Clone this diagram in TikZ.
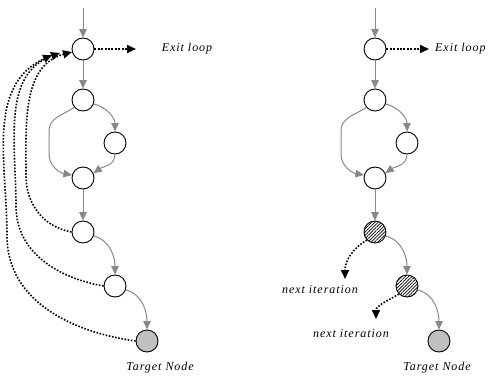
\documentclass[tikz,border=0pt]{standalone}
\usepackage{fontspec}
\setmainfont{Liberation Serif}[LetterSpace=8]
\usetikzlibrary{arrows.meta,patterns.meta}
\definecolor{edgegray}{HTML}{888888}
\definecolor{targetgray}{HTML}{C0C0C0}
\begin{document}
\begin{tikzpicture}[x=1pt,y=1pt,
  nd/.style={circle,draw=black,line width=0.9pt,minimum size=22pt,inner sep=0pt,fill=white},
  hatch/.style={nd,pattern={Lines[angle=45,distance=2.3pt,line width=0.7pt]}},
  tgt/.style={nd,fill=targetgray},
  flow/.style={draw=edgegray,line width=1pt,-{Triangle[length=8.5pt,width=7.5pt]}},
  back/.style={draw=black,line width=1.6pt,dash pattern=on 1.6pt off 1.6pt,-{Triangle[length=9pt,width=8pt]}},
  exitarrow/.style={draw=black,line width=2.2pt,dash pattern=on 2pt off 1.4pt,-{Triangle[length=9pt,width=8pt]}},
  lbl/.style={font=\fontsize{12}{14}\selectfont\itshape,inner sep=0pt}]
\useasboundingbox (0,0) rectangle (490,376);
% ---------------- left diagram ----------------
\coordinate (Ls) at (83,368);
\node[nd] (L1) at (83,327) {};
\node[nd] (L2) at (83,276) {};
\node[nd] (L3) at (115,233) {};
\node[nd] (L4) at (83,198) {};
\node[nd] (L5) at (83,144) {};
\node[nd] (L6) at (115,90) {};
\node[tgt] (LT) at (147,35) {};
\coordinate (Lx) at (136,327);
\node[lbl] (Lxl) at (187,327) {Exit loop};
\node[lbl] (Ltl) at (160,8) {Target Node};
\draw[flow] (Ls) -- (L1);
\draw[flow] (L1) -- (L2);
\draw[flow] (L2.-20) to[out=-15,in=90] (L3.north);
\draw[flow] (L2.220) to[out=215,in=90] (49,245) -- (49,222) to[out=-90,in=170] (L4.165);
\draw[flow] (L3.south) to[out=-90,in=35] (L4.25);
\draw[flow] (L4) -- (L5);
\draw[flow] (L5.-20) to[out=-15,in=90] (L6.north);
\draw[flow] (L6.-20) to[out=-15,in=90] (LT.north);
\draw[exitarrow] (L1.east) -- (Lx);
\coordinate (a1) at (72,324);
\coordinate (a2) at (60,323);
\coordinate (a3) at (52,321);
\draw[back] (L5.west) to[out=170,in=-90] (26,200) to[out=90,in=195] (a1);
\draw[back] (L6.west) to[out=170,in=-90] (16,170) to[out=90,in=200] (a2);
\draw[back] (LT.west) to[out=172,in=-90] (7,140) to[out=90,in=205] (a3);
% ---------------- right diagram ----------------
\coordinate (Rs) at (375,368);
\node[nd] (R1) at (375,327) {};
\node[nd] (R2) at (375,276) {};
\node[nd] (R3) at (407,233) {};
\node[nd] (R4) at (375,198) {};
\node[hatch] (R5) at (375,144) {};
\node[hatch] (R6) at (407,90) {};
\node[tgt] (RT) at (439,35) {};
\coordinate (Rx) at (429,327);
\node[lbl,anchor=west] (Rxl) at (435,327) {Exit loop};
\node[lbl] (Rtl) at (437,8) {Target Node};
\coordinate (n1) at (345,97);
\coordinate (n2) at (376,57);
\node[lbl] (n1l) at (320,86) {next iteration};
\node[lbl] (n2l) at (351,42) {next iteration};
\draw[flow] (Rs) -- (R1);
\draw[flow] (R1) -- (R2);
\draw[flow] (R2.-20) to[out=-15,in=90] (R3.north);
\draw[flow] (R2.220) to[out=215,in=90] (341,245) -- (341,222) to[out=-90,in=170] (R4.165);
\draw[flow] (R3.south) to[out=-90,in=35] (R4.25);
\draw[flow] (R4) -- (R5);
\draw[flow] (R5.-20) to[out=-15,in=90] (R6.north);
\draw[flow] (R6.-20) to[out=-15,in=90] (RT.north);
\draw[exitarrow] (R1.east) -- (Rx);
\draw[back] (R5.225) to[out=210,in=90] (n1);
\draw[back] (R6.225) to[out=210,in=90] (n2);
\end{tikzpicture}
\end{document}
